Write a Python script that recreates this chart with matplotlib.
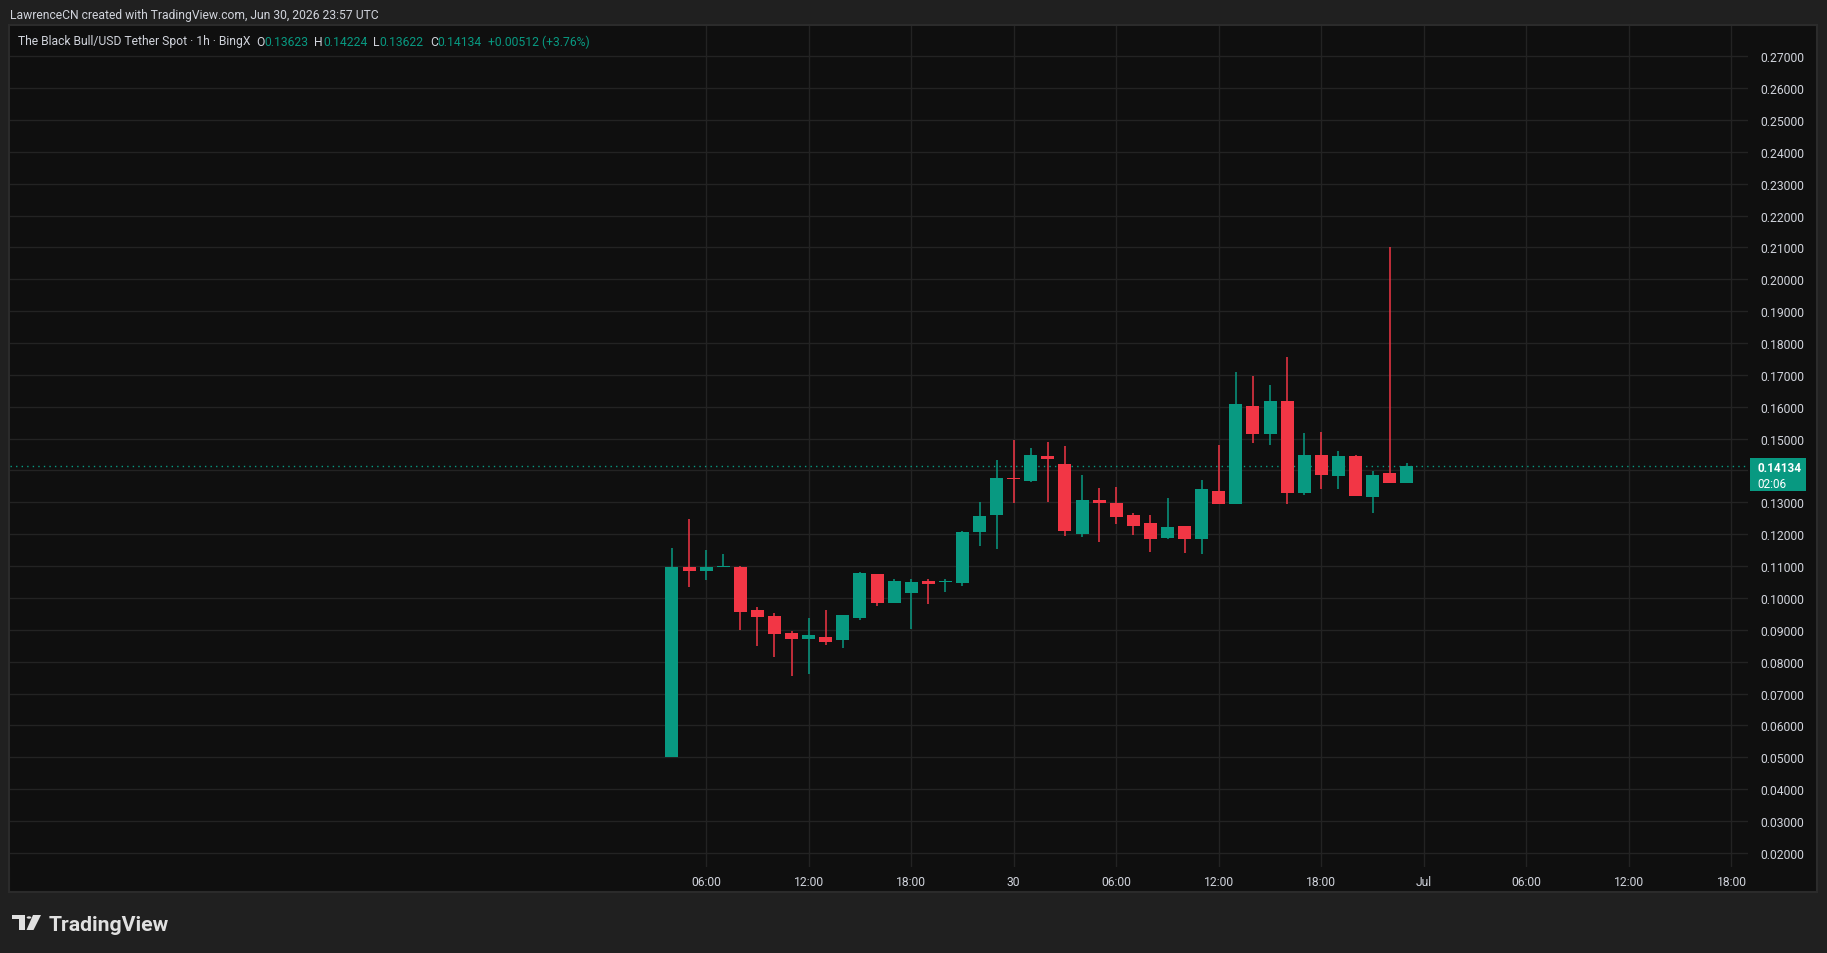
import numpy as np
import pandas as pd
import matplotlib
matplotlib.use("Agg")
import matplotlib.pyplot as plt
import matplotlib.dates as mdates
from matplotlib.patches import Rectangle, Polygon, Circle
from matplotlib.ticker import FuncFormatter
from matplotlib.transforms import IdentityTransform

W, H = 1827, 954
BG = "#202020"
PANEL = "#0f0f0f"
GRID = "#232323"
TEXT = "#d1d4dc"
UP = "#089981"
DOWN = "#f23645"

# hourly candles, Jun 29 04:00 .. Jun 30 23:00 (UTC)
times = pd.date_range("2026-06-29 04:00", periods=44, freq="h")
opens = [0.0500, 0.1096, 0.1086, 0.1097, 0.1098, 0.0962, 0.0943, 0.0890, 0.0872, 0.0877, 0.0869,
         0.0938, 0.1075, 0.0985, 0.1016, 0.1053, 0.1049, 0.1048, 0.1208, 0.1261, 0.1377, 0.1367,
         0.1445, 0.1420, 0.1202, 0.1307, 0.1298, 0.1260, 0.1235, 0.1189, 0.1226, 0.1186, 0.1336,
         0.1296, 0.1602, 0.1515, 0.1618, 0.1330, 0.1449, 0.1384, 0.1445, 0.1318, 0.1393, 0.13623]
highs = [0.1156, 0.1248, 0.1150, 0.1138, 0.1100, 0.0970, 0.0952, 0.0896, 0.0937, 0.0962, 0.0946,
         0.1082, 0.1076, 0.1059, 0.1059, 0.1059, 0.1059, 0.1210, 0.1300, 0.1433, 0.1496, 0.1470,
         0.1489, 0.1477, 0.1386, 0.1345, 0.1348, 0.1267, 0.1260, 0.1314, 0.1226, 0.1370, 0.1480,
         0.1709, 0.1697, 0.1668, 0.1757, 0.1518, 0.1521, 0.1461, 0.1449, 0.1399, 0.2100, 0.14224]
lows = [0.0500, 0.1035, 0.1057, 0.1097, 0.0900, 0.0850, 0.0816, 0.0756, 0.0762, 0.0853, 0.0844,
        0.0932, 0.0976, 0.0985, 0.0903, 0.0982, 0.1019, 0.1039, 0.1164, 0.1155, 0.1298, 0.1364,
        0.1302, 0.1194, 0.1192, 0.1176, 0.1233, 0.1198, 0.1145, 0.1186, 0.1142, 0.1139, 0.1296,
        0.1296, 0.1487, 0.1481, 0.1296, 0.1324, 0.1343, 0.1343, 0.1321, 0.1267, 0.1362, 0.13622]
closes = [0.1096, 0.1086, 0.1097, 0.1099, 0.0957, 0.0941, 0.0888, 0.0872, 0.0884, 0.0863, 0.0946,
          0.1078, 0.0985, 0.1053, 0.1050, 0.1045, 0.1051, 0.1207, 0.1257, 0.1376, 0.1374, 0.1449,
          0.1437, 0.1211, 0.1307, 0.1299, 0.1255, 0.1227, 0.1186, 0.1223, 0.1186, 0.1342, 0.1296,
          0.1609, 0.1515, 0.1618, 0.1330, 0.1449, 0.1387, 0.1445, 0.1321, 0.1387, 0.1362, 0.14134]

price_ticks = [0.02, 0.03, 0.04, 0.05, 0.06, 0.07, 0.08, 0.09, 0.10, 0.11, 0.12, 0.13, 0.14,
               0.15, 0.16, 0.17, 0.18, 0.19, 0.20, 0.21, 0.22, 0.23, 0.24, 0.25, 0.26, 0.27]
hidden_tick = 0.14  # covered by the last-price label
time_ticks = ["2026-06-29 06:00", "2026-06-29 12:00", "2026-06-29 18:00", "2026-06-30 00:00",
              "2026-06-30 06:00", "2026-06-30 12:00", "2026-06-30 18:00", "2026-07-01 00:00",
              "2026-07-01 06:00", "2026-07-01 12:00", "2026-07-01 18:00"]
time_labels = ["06:00", "12:00", "18:00", "30", "06:00", "12:00", "18:00", "Jul",
               "06:00", "12:00", "18:00"]
x_range = ("2026-06-27 13:16", "2026-07-01 18:58")
y_range = (0.01555, 0.27951)

header = "LawrenceCN created with TradingView.com, Jun 30, 2026 23:57 UTC"
legend = [("The Black Bull/USD Tether Spot · 1h · BingX", TEXT, 6),
          ("O", TEXT, 0), ("0.13623", UP, 6),
          ("H", TEXT, 0), ("0.14224", UP, 6),
          ("L", TEXT, 0), ("0.13622", UP, 6),
          ("C", TEXT, 0), ("0.14134", UP, 6),
          ("+0.00512 (+3.76%)", UP, 0)]

plt.rcParams["font.family"] = ["Roboto", "DejaVu Sans"]

fig = plt.figure(figsize=(W / 100, H / 100), dpi=100, facecolor=BG)
fig.add_artist(Rectangle((9 / W, 1 - 893 / H), (1817 - 9) / W, (893 - 26) / H,
                         transform=fig.transFigure, fc=PANEL, ec="#2b2b2b", lw=1.5, zorder=-1))

ax = fig.add_axes([10 / W, 1 - 868 / H, (1748 - 10) / W, (868 - 27) / H])
ax.set_facecolor(PANEL)
for s in ax.spines.values():
    s.set_visible(False)

x = mdates.date2num(times)
o = np.array(opens)
c = np.array(closes)
cols = [UP if cc >= oo else DOWN for oo, cc in zip(o, c)]
bottoms = np.minimum(o, c)
heights = np.maximum(np.abs(c - o), 0.0003)
width = 0.76 / 24

ax.vlines(x, lows, highs, colors=cols, lw=1.1, zorder=3)
ax.bar(x, heights, width, bottom=bottoms, color=cols, lw=0, zorder=4)

ax.axhline(closes[-1], color=UP, lw=1, ls=(0, (1, 3)), zorder=2)

ax.set_xlim(mdates.date2num(pd.to_datetime(x_range[0])), mdates.date2num(pd.to_datetime(x_range[1])))
ax.set_ylim(*y_range)
ax.set_yticks(price_ticks)
ax.yaxis.set_major_formatter(FuncFormatter(lambda v, pos: "" if abs(v - hidden_tick) < 1e-9 else f"{v:.5f}"))
ax.set_xticks(mdates.date2num(pd.to_datetime(time_ticks)))
ax.set_xticklabels(time_labels)
ax.yaxis.tick_right()
ax.tick_params(axis="y", length=0, pad=9, labelsize=8.7, labelcolor=TEXT)
ax.tick_params(axis="x", length=0, pad=6, labelsize=8.7, labelcolor=TEXT)
ax.grid(True, color=GRID, lw=1)
ax.set_axisbelow(True)

# header and legend line
fig.text(10 / W, 1 - 16 / H, header, color=TEXT, fontsize=8.7, va="center", ha="left")
renderer = fig.canvas.get_renderer()
px = 17.5
for s, col, gap in legend:
    t = fig.text(px / W, 1 - 42 / H, s, color=col, fontsize=8.7, va="center", ha="left")
    px += t.get_window_extent(renderer).width + gap

# last price label
yp = ax.transData.transform((x[-1], closes[-1]))[1]
fig.add_artist(Rectangle((1750, yp - 25), 56, 33, transform=IdentityTransform(),
                         fc=UP, ec="none", zorder=5))
fig.text(1757, yp - 1, f"{closes[-1]:.5f}", transform=IdentityTransform(), color="white",
         fontsize=8.5, fontweight="bold", va="center", ha="left", zorder=6)
fig.text(1757, yp - 17, "02:06", transform=IdentityTransform(), color="white",
         fontsize=8.5, va="center", ha="left", zorder=6)

# TradingView logo
def P(xp, ytop):
    return (xp / W, 1 - ytop / H)

logo_col = "#e0e0e0"
fig.add_artist(Polygon([P(12, 916), P(25, 916), P(25, 931), P(19, 931), P(19, 920), P(12, 920)],
                       closed=True, transform=fig.transFigure, fc=logo_col, ec="none"))
fig.add_artist(Circle(P(29, 918.5), 2.3 / W, transform=fig.transFigure, fc=logo_col, ec="none"))
fig.add_artist(Polygon([P(33, 916), P(41, 916), P(33.5, 931), P(26.5, 931)],
                       closed=True, transform=fig.transFigure, fc=logo_col, ec="none"))
fig.text(49 / W, 1 - 931 / H, "TradingView", color=logo_col, fontsize=15.3, fontweight="bold",
         va="baseline", ha="left")

fig.savefig("out.png", dpi=100, facecolor=BG)
